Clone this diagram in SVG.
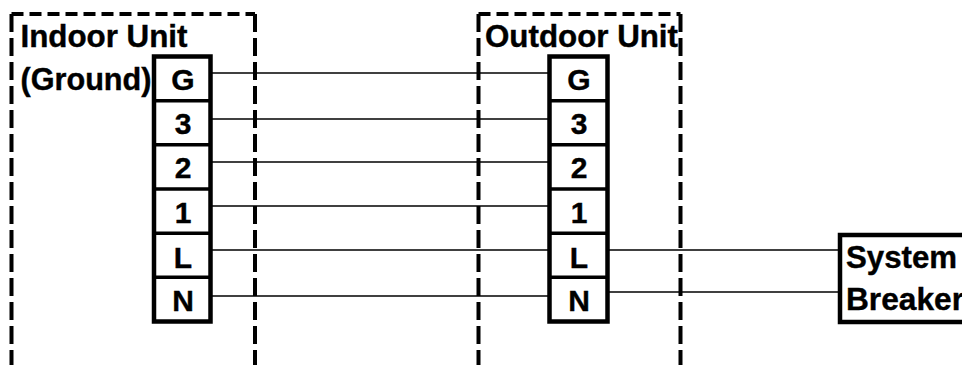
<svg xmlns="http://www.w3.org/2000/svg" width="962" height="365" viewBox="0 0 962 365">
<style>
.bg{fill:#fff}
.dv{fill:none;stroke:#000;stroke-width:4;stroke-dasharray:18 6}
.dh{fill:none;stroke:#000;stroke-width:4;stroke-dasharray:12 6}
.blk{fill:#fff;stroke:#000;stroke-width:4.5}
.div{stroke:#000;stroke-width:3.5}
.w{stroke:#000;stroke-width:1.6;fill:none}
.t{font-family:"Liberation Sans",Arial,sans-serif;font-weight:bold;font-size:31px;fill:#000;stroke:#000;stroke-width:0.4}
.k{font-family:"Liberation Sans",Arial,sans-serif;font-weight:bold;font-size:30px;fill:#000;stroke:#000;stroke-width:0.4;text-anchor:middle}
</style>
<rect class="bg" x="0" y="0" width="962" height="365"/>
<g id="indoor-unit">
<path class="dh" d="M11.5 14 H255"/>
<path class="dv" d="M11.5 14 V365"/>
<path class="dv" d="M255 14 V365"/>
<text class="t" x="20.5" y="46.5" textLength="167" lengthAdjust="spacingAndGlyphs">Indoor Unit</text>
<text class="t" x="20.5" y="90" textLength="131" lengthAdjust="spacingAndGlyphs">(Ground)</text>
</g>
<g id="outdoor-unit">
<path class="dh" d="M478.5 14 H680.5"/>
<path class="dv" d="M478.5 14 V365"/>
<path class="dv" d="M680.5 14 V365"/>
<text class="t" x="485" y="46.5" textLength="193" lengthAdjust="spacingAndGlyphs">Outdoor Unit</text>
</g>
<g id="indoor-terminal">
<rect class="blk" x="154" y="56.5" width="56.5" height="265"/>
<path class="div" d="M154 100.7H210.5M154 144.8H210.5M154 189H210.5M154 233.2H210.5M154 277.3H210.5"/>
<text class="k" x="183" y="89.5">G</text>
<text class="k" x="183" y="133.5">3</text>
<text class="k" x="183" y="178">2</text>
<text class="k" x="183" y="222.5">1</text>
<text class="k" x="183" y="267.5">L</text>
<text class="k" x="183" y="311">N</text>
</g>
<g id="outdoor-terminal">
<rect class="blk" x="549.5" y="56.5" width="58" height="265"/>
<path class="div" d="M549.5 100.7H607.5M549.5 144.8H607.5M549.5 189H607.5M549.5 233.2H607.5M549.5 277.3H607.5"/>
<text class="k" x="579" y="89.5">G</text>
<text class="k" x="579" y="133.5">3</text>
<text class="k" x="579" y="178">2</text>
<text class="k" x="579" y="222.5">1</text>
<text class="k" x="579" y="267.5">L</text>
<text class="k" x="579" y="311">N</text>
</g>
<g id="system-breaker">
<rect class="blk" x="840" y="235" width="140" height="87"/>
<text class="t" x="846" y="267.5" textLength="111" lengthAdjust="spacingAndGlyphs">System</text>
<text class="t" x="846" y="310" textLength="118" lengthAdjust="spacingAndGlyphs">Breaker</text>
</g>
<g id="connectors">
<path class="w" d="M212 73H549.5"/>
<path class="w" d="M212 119H549.5"/>
<path class="w" d="M212 162H549.5"/>
<path class="w" d="M212 206H549.5"/>
<path class="w" d="M212 250H549.5"/>
<path class="w" d="M212 296H549.5"/>
<path class="w" d="M607.5 250H840"/>
<path class="w" d="M607.5 292H840"/>
</g>
</svg>
